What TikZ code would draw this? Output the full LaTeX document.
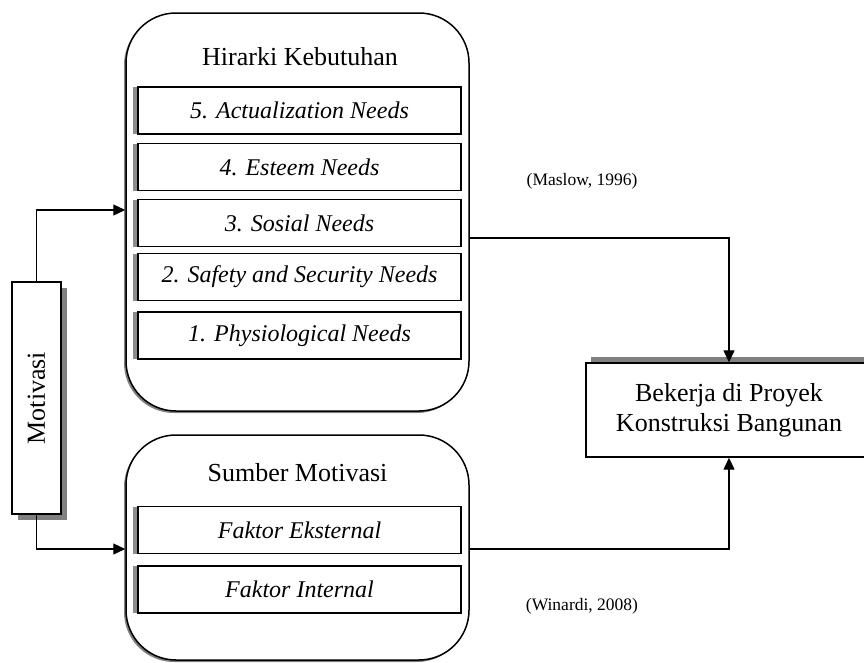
\documentclass[tikz,border=0pt]{standalone}
\usepackage{fontspec}
\setmainfont{Liberation Serif}
\usetikzlibrary{arrows.meta,shadows}
\begin{document}
\begin{tikzpicture}[x=1pt,y=-1pt,
  bigbox/.style={draw,line width=1.5pt,fill=white,rounded corners=50pt,inner sep=0pt,
    drop shadow={shadow xshift=-2pt,shadow yshift=-2pt,fill=gray,opacity=1}},
  needbox/.style={draw,line width=1.4pt,fill=white,minimum width=323pt,minimum height=47pt,inner sep=0pt,
    font=\fontsize{24}{28}\selectfont\itshape,
    drop shadow={shadow xshift=-5pt,shadow yshift=0pt,fill=gray!90,opacity=1}},
  heading/.style={font=\fontsize{26}{30}\selectfont},
  citetext/.style={font=\fontsize{17.5}{21}\selectfont},
  conn/.style={line width=1.3pt},
  arr/.style={conn,-{Triangle[length=12pt,width=11pt]}}
]
\useasboundingbox (0,0) rectangle (864,662);
% big rounded boxes
\node[bigbox,minimum width=343pt,minimum height=398pt] (hk) at (297.5,212) {};
\node[bigbox,minimum width=343pt,minimum height=225pt] (sm) at (297.5,547.5) {};
\node[heading] (hkt) at (300,57) {Hirarki Kebutuhan};
\node[heading] (smt) at (297.5,473) {Sumber Motivasi};
% needs
\node[needbox] (n5) at (299.5,110.5) {5. Actualization Needs};
\node[needbox] (n4) at (299.5,167) {4. Esteem Needs};
\node[needbox] (n3) at (299.5,223) {3. Sosial Needs};
\node[needbox] (n2) at (299.5,277) {2. Safety and Security Needs};
\node[needbox] (n1) at (299.5,335.5) {1. Physiological Needs};
\node[needbox] (fe) at (299.5,530) {Faktor Eksternal};
\node[needbox] (fi) at (299.5,589.5) {Faktor Internal};
% motivasi
\node[draw,line width=1.2pt,fill=white,minimum width=49pt,minimum height=232pt,inner sep=0pt,
  drop shadow={shadow xshift=6pt,shadow yshift=-6pt,fill=gray,opacity=1}] (mot) at (36.5,398) {};
\node[heading,rotate=90] (mott) at (36.5,398) {Motivasi};
% target
\node[draw,line width=1.4pt,fill=white,minimum width=286pt,minimum height=94pt,align=center,heading,
  drop shadow={shadow xshift=5pt,shadow yshift=6pt,fill=gray,opacity=1}] (bk) at (729,410)
  {Bekerja di Proyek\\Konstruksi Bangunan};
% citations
\node[citetext] (c1) at (582,181) {(Maslow, 1996)};
\node[citetext] (c2) at (582,606) {(Winardi, 2008)};
% connectors
\coordinate (ya) at (0,210);
\coordinate (yb) at (0,549);
\coordinate (yc) at (0,238);
\draw[arr] (mot.north) |- (hk.west |- ya);
\draw[arr] (mot.south) |- (sm.west |- yb);
\draw[arr] (hk.east |- yc) -| (bk.north);
\draw[arr] (sm.east |- yb) -| (bk.south);
\end{tikzpicture}
\end{document}
